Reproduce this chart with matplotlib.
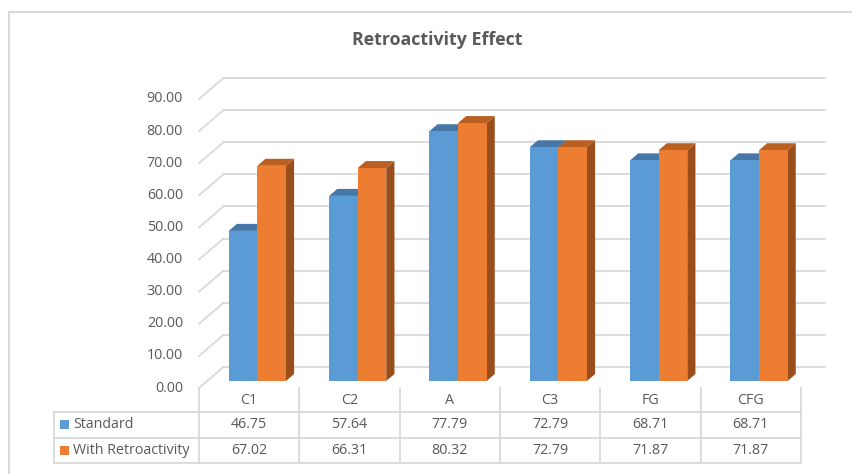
import numpy as np
import matplotlib.pyplot as plt
from matplotlib.patches import Polygon, Rectangle
from matplotlib.lines import Line2D
from matplotlib.transforms import blended_transform_factory

categories = ["C1", "C2", "A", "C3", "FG", "CFG"]
standard = [46.75, 57.64, 77.79, 72.79, 68.71, 68.71]
retro = [67.02, 66.31, 80.32, 72.79, 71.87, 71.87]
series_names = ["Standard", "With Retroactivity"]
y_ticks = [0, 10, 20, 30, 40, 50, 60, 70, 80, 90]

BLUE = "#5B9BD5"
BLUE_TOP = "#4677A6"
ORANGE = "#ED7D31"
ORANGE_TOP = "#BA5F22"
ORANGE_SIDE = "#9A4E1C"
TEXT = "#595959"
GRID = "#D9D9D9"
FS = 10.3

plt.rcParams['font.family'] = ['Open Sans', 'DejaVu Sans']

W, H = 853, 474
fig = plt.figure(figsize=(W / 100, H / 100), dpi=100)

# front plane of the floor: x from 199 px to 801 px, value 0 at 388 px from top
ax = fig.add_axes([199 / W, (H - 388) / H, 602 / W, 289 / H])
ax.set_xlim(-0.5, len(categories) - 0.5)
ax.set_ylim(0, 90)
ax.axis("off")

# pixel -> data scale for the depth offsets
p0 = ax.transData.transform((0, 0))
p1 = ax.transData.transform((1, 1))
sx, sy = p1 - p0
depth_px = np.array([24.5, 21.0])
dx, dy = depth_px[0] / sx, depth_px[1] / sy


def shift(pts, frac):
    return [(x + dx * frac, y + dy * frac) for x, y in pts]


# back wall gridlines and the diagonal side-wall lines
x_lo, x_hi = -0.5, len(categories) - 0.5
for v in y_ticks:
    ax.add_line(Line2D([x_lo + dx, x_hi + dx], [v + dy, v + dy],
                       color=GRID, lw=1.3, clip_on=False, zorder=1))
    ax.add_line(Line2D([x_lo, x_lo + dx], [v, v + dy],
                       color=GRID, lw=1.3, clip_on=False, zorder=1))
    ax.text(x_lo - 16 / sx, v, f"{v:.2f}", ha="right", va="center",
            fontsize=FS, color=TEXT)

# 3d columns: front face, top face, right side face
bar_w = 0.285
for i in range(len(categories)):
    pairs = [(standard[i], i - bar_w, BLUE, BLUE_TOP, BLUE_TOP),
             (retro[i], i, ORANGE, ORANGE_TOP, ORANGE_SIDE)]
    for val, x0, face, top, side in pairs:
        x1 = x0 + bar_w
        front = shift([(x0, 0), (x1, 0), (x1, val), (x0, val)], 1 / 3)
        top_face = shift([(x0, val), (x1, val)], 1 / 3) + \
            shift([(x1, val), (x0, val)], 2 / 3)
        side_face = shift([(x1, 0), (x1, val)], 1 / 3) + \
            shift([(x1, val), (x1, 0)], 2 / 3)
        for pts, c in [(side_face, side), (top_face, top), (front, face)]:
            ax.add_patch(Polygon(pts, closed=True, facecolor=c,
                                 edgecolor="none", clip_on=False, zorder=3))

# data table under the chart
tb = blended_transform_factory(ax.transData, fig.transFigure)
tf = fig.transFigure


def fy(px):
    return (H - px) / H


row_top, row1, row2, row_bot = 388, 412, 438, 463
table_left = 54 / W
table_right = 801 / W
for k in range(len(categories) + 1):
    ax.add_line(Line2D([k - 0.5, k - 0.5], [fy(row_top), fy(row_bot)],
                       transform=tb, color=GRID, lw=1.3, clip_on=False))
fig.add_artist(Line2D([table_left, table_left], [fy(row1), fy(row_bot)],
                      transform=tf, color=GRID, lw=1.3))
for r in [row1, row2, row_bot]:
    fig.add_artist(Line2D([table_left, table_right], [fy(r), fy(r)],
                          transform=tf, color=GRID, lw=1.3))

for i, cat in enumerate(categories):
    ax.text(i, fy(400), cat, transform=tb, ha="center", va="center",
            fontsize=FS, color=TEXT)
    ax.text(i, fy(425), f"{standard[i]:.2f}", transform=tb, ha="center",
            va="center", fontsize=FS, color=TEXT)
    ax.text(i, fy(450.5), f"{retro[i]:.2f}", transform=tb, ha="center",
            va="center", fontsize=FS, color=TEXT)

for name, c, yc in [(series_names[0], BLUE, 424), (series_names[1], ORANGE, 450)]:
    fig.add_artist(Rectangle((60 / W, fy(yc + 4.5)), 9 / W, 9 / H,
                             transform=tf, facecolor=c, edgecolor="none"))
    fig.text(73 / W, fy(yc + 0.5), name, ha="left", va="center",
             fontsize=FS, color=TEXT)

fig.text(437 / W, fy(40), "Retroactivity Effect", ha="center", va="center",
         fontsize=12.8, fontweight="bold", color=TEXT)

# chart area border
fig.add_artist(Rectangle((8.5 / W, -0.1), 1.2, fy(12.5) + 0.1, transform=tf,
                         facecolor="none", edgecolor=GRID, lw=1.5))

fig.savefig("out.png", dpi=100)
